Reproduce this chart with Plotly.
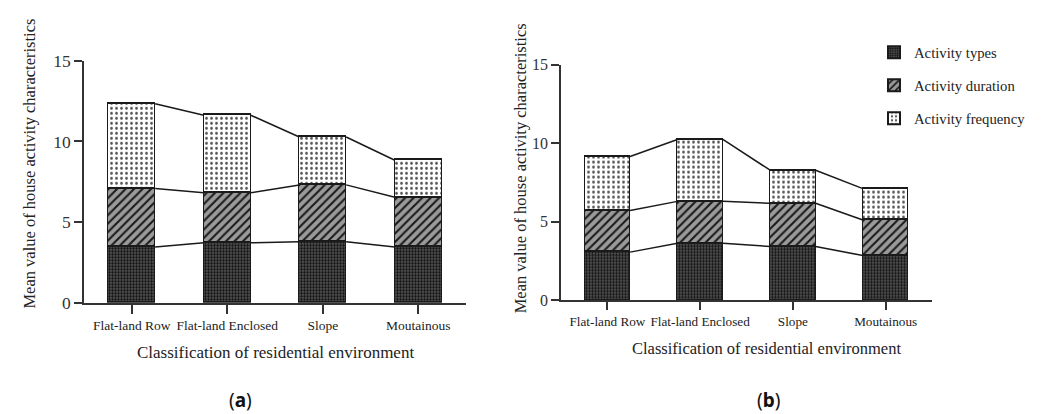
import plotly.graph_objects as go
import numpy as np

categories = ["Flat-land Row", "Flat-land Enclosed", "Slope", "Moutainous"]
series_names = ["Activity types", "Activity duration", "Activity frequency"]

# Panel (a)
a_types = [3.46, 3.72, 3.79, 3.46]
a_duration = [3.63, 3.10, 3.52, 3.08]
a_frequency = [5.25, 4.81, 2.97, 2.30]

# Panel (b)
b_types = [3.07, 3.63, 3.43, 2.85]
b_duration = [2.65, 2.67, 2.75, 2.26]
b_frequency = [3.43, 3.94, 2.10, 2.00]

y_ticks = [0, 5, 10, 15]
BAR_W = 0.49
SERIF = "Liberation Serif, Times New Roman, serif"

styles = [
    dict(color="#4a4a4a", pattern=dict(shape=".", fgcolor="#111111", bgcolor="#5a5a5a",
                                       size=3, solidity=0.5, fillmode="replace")),
    dict(color="#9a9a9a", pattern=dict(shape="/", fgcolor="#1a1a1a", bgcolor="#9a9a9a",
                                       size=6, solidity=0.35, fillmode="replace")),
    dict(color="#ffffff", pattern=dict(shape=".", fgcolor="#555555", bgcolor="#ffffff",
                                       size=5, solidity=0.25, fillmode="replace")),
]

fig = go.Figure()
x = np.arange(len(categories))

panels = [
    ("x", "y", [a_types, a_duration, a_frequency]),
    ("x2", "y2", [b_types, b_duration, b_frequency]),
]

for xa, ya, series in panels:
    # connector lines between stacked tops
    cum = np.cumsum(np.array(series), axis=0)
    for level in cum:
        for i in range(len(categories) - 1):
            fig.add_trace(go.Scatter(
                x=[x[i] + BAR_W / 2, x[i + 1] - BAR_W / 2],
                y=[level[i], level[i + 1]],
                mode="lines", line=dict(color="#1a1a1a", width=1.5),
                xaxis=xa, yaxis=ya, showlegend=False, hoverinfo="skip"))

for xa, ya, series in panels:
    for k, (name, vals) in enumerate(zip(series_names, series)):
        st = styles[k]
        fig.add_trace(go.Bar(
            x=x, y=vals, name=name, width=BAR_W,
            marker=dict(color=st["color"], pattern=st["pattern"],
                        line=dict(color="#1a1a1a", width=1.5)),
            xaxis=xa, yaxis=ya, showlegend=(xa == "x2"), legendgroup=name))

W, H = 1041, 414
def px_x(p):
    return p / W
def px_y(p):
    return 1 - p / H

axis_common = dict(showline=True, linecolor="#333333", linewidth=1.5, ticks="outside",
                   tickcolor="#333333", tickwidth=1.5, showgrid=False, zeroline=False)

fig.update_layout(
    width=W, height=H, margin=dict(l=0, r=0, t=0, b=0),
    plot_bgcolor="white", paper_bgcolor="white", barmode="stack", bargap=0,
    showlegend=True,
    legend=dict(x=px_x(866), y=px_y(19), xanchor="left", yanchor="top",
                font=dict(family=SERIF, size=14.7, color="#222222"),
                traceorder="grouped", itemsizing="constant", tracegroupgap=11,
                bgcolor="rgba(0,0,0,0)"),
    xaxis=dict(domain=[px_x(76), px_x(458)], range=[-0.5, 3.5], anchor="y",
               tickvals=list(x), ticktext=categories, ticklen=9,
               tickfont=dict(family=SERIF, size=13.5, color="#222222"), **axis_common),
    yaxis=dict(domain=[px_y(299.3), px_y(45)], range=[0, 15], anchor="x",
               tickvals=y_ticks, ticklen=8,
               tickfont=dict(family=SERIF, size=17.5, color="#333333"), **axis_common),
    xaxis2=dict(domain=[px_x(553), px_x(924)], range=[-0.5, 3.5], anchor="y2",
                tickvals=list(x), ticktext=categories, ticklen=8,
                tickfont=dict(family=SERIF, size=13.2, color="#222222"), **axis_common),
    yaxis2=dict(domain=[px_y(296.7), px_y(49)], range=[0, 15], anchor="x2",
                tickvals=y_ticks, ticklen=8,
                tickfont=dict(family=SERIF, size=16, color="#333333"), **axis_common),
)

ytitle = "Mean value of house activity characteristics"
xtitle = "Classification of residential environment"
ann = [
    dict(text=ytitle, x=px_x(22), y=px_y(153), textangle=-90, font=dict(size=16.5)),
    dict(text=ytitle, x=px_x(512), y=px_y(158), textangle=-90, font=dict(size=16.5)),
    dict(text=xtitle, x=px_x(267), y=px_y(352), font=dict(size=17)),
    dict(text=xtitle, x=px_x(758), y=px_y(347), font=dict(size=16.5)),
]
for a in ann:
    a.update(xref="paper", yref="paper", showarrow=False, xanchor="center", yanchor="middle")
    a["font"].update(family=SERIF, color="#222222")
    fig.add_annotation(**a)

for lbl, xc in (("(<b>a</b>)", 232), ("(<b>b</b>)", 760)):
    fig.add_annotation(text=lbl, x=px_x(xc), y=px_y(401), xref="paper", yref="paper",
                       showarrow=False, xanchor="center", yanchor="middle",
                       font=dict(family="Noto Sans", size=19, color="#111111"))

fig.write_html("out.html")
